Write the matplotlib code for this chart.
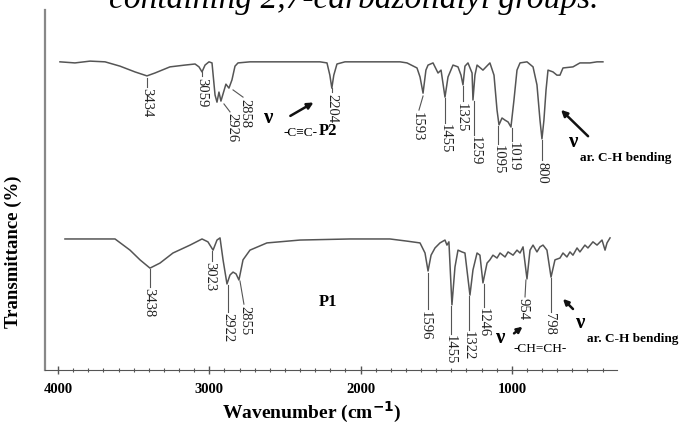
import matplotlib
matplotlib.use("Agg")
import matplotlib.pyplot as plt

plt.rcParams['font.family'] = ['Liberation Serif', 'DejaVu Serif']

# P2 spectrum (wavenumber in cm-1, transmittance in %, offset trace)
p2_wn = [3987, 3888, 3788, 3689, 3590, 3491, 3412, 3359, 3260, 3161, 3094, 3068,
         3048, 3028, 3002, 2982, 2962, 2949, 2936, 2923, 2909, 2890, 2870, 2850,
         2830, 2810, 2731, 2533, 2268, 2222, 2203, 2190, 2177, 2156, 2103, 1872,
         1739, 1693, 1627, 1607, 1587, 1568, 1554, 1521, 1488, 1468, 1442, 1422,
         1389, 1356, 1336, 1323, 1310, 1290, 1263, 1257, 1244, 1230, 1191, 1145,
         1118, 1098, 1085, 1065, 1045, 1025, 1006, 986, 966, 946, 900, 860,
         834, 814, 801, 788, 774, 761, 728, 702, 682, 662, 596, 550,
         484, 437, 398]
p2_t = [85.6, 85.3, 85.8, 85.6, 84.4, 82.8, 81.7, 82.5, 84.2, 84.7, 85.0, 84.2,
        82.8, 84.7, 85.6, 85.3, 76.4, 74.4, 77.2, 74.7, 76.7, 79.4, 78.3, 80.6,
        84.4, 85.3, 85.6, 85.6, 85.6, 85.3, 81.9, 78.3, 81.9, 85.0, 85.6, 85.6,
        85.6, 85.3, 83.9, 81.4, 76.9, 83.3, 84.7, 85.3, 82.5, 83.3, 75.8, 81.4,
        84.7, 84.2, 81.9, 79.2, 84.4, 85.3, 82.5, 75.0, 81.9, 84.7, 83.3, 85.3,
        81.9, 72.2, 68.1, 70.0, 69.4, 68.9, 67.5, 75.0, 83.3, 85.3, 85.6, 84.2,
        79.2, 69.4, 64.2, 69.4, 77.8, 83.3, 82.8, 81.9, 81.9, 83.9, 84.2, 85.3,
        85.3, 85.6, 85.6]

# P1 spectrum
p1_wn = [3954, 3623, 3524, 3458, 3392, 3326, 3240, 3127, 3048, 3009, 2975, 2949,
         2929, 2909, 2883, 2863, 2843, 2823, 2804, 2777, 2731, 2619, 2400, 2070,
         1806, 1693, 1607, 1574, 1554, 1534, 1508, 1475, 1442, 1429, 1416, 1396,
         1376, 1356, 1330, 1310, 1277, 1257, 1230, 1211, 1191, 1164, 1145, 1125,
         1098, 1078, 1045, 1025, 992, 966, 946, 926, 900, 880, 860, 834,
         814, 794, 768, 741, 715, 682, 662, 636, 616, 596, 569, 550,
         517, 497, 464, 437, 404, 384, 371, 351]
p1_t = [36.4, 36.4, 33.3, 30.6, 28.3, 29.7, 32.5, 34.7, 36.4, 35.6, 33.3, 36.1,
        36.7, 30.6, 23.9, 26.4, 27.2, 26.7, 25.0, 30.6, 33.3, 35.3, 36.1, 36.4,
        36.4, 35.8, 35.3, 32.5, 27.5, 31.9, 33.9, 35.3, 36.1, 34.7, 35.6, 18.1,
        28.6, 33.3, 32.8, 32.5, 20.8, 27.8, 32.5, 31.9, 24.2, 29.7, 30.6, 31.9,
        31.1, 32.5, 31.4, 32.8, 31.9, 33.3, 32.5, 34.2, 25.3, 33.3, 34.7, 32.8,
        34.2, 34.7, 33.3, 25.8, 30.6, 31.1, 32.5, 31.4, 32.8, 31.9, 33.9, 32.8,
        34.7, 33.9, 35.6, 34.7, 36.1, 33.3, 35.3, 36.7]

# peak labels: text, (line start), (line end / text top), text x
p2_peaks = [("3434", 3412, 81.1, 3412, 78.6, 3412),
            ("3059", 3048, 82.8, 3048, 81.6, 3048),
            ("2926", 2903, 73.9, 2863, 71.7, 2850),
            ("2858", 2843, 77.8, 2777, 75.8, 2764),
            ("2204", 2189, 78.3, 2189, 77.2, 2189),
            ("1593", 1587, 76.1, 1614, 72.2, 1627),
            ("1455", 1442, 75.6, 1442, 68.6, 1442),
            ("1325", 1323, 78.9, 1323, 74.7, 1336),
            ("1259", 1250, 74.7, 1250, 65.3, 1244),
            ("1095", 1092, 67.8, 1092, 62.8, 1092),
            ("1019", 999, 67.2, 999, 63.6, 992),
            ("800", 801, 63.9, 801, 58.3, 801)]
p1_peaks = [("3438", 3392, 28.1, 3392, 23.1, 3398),
            ("3023", 2982, 33.1, 2982, 30.3, 2995),
            ("2922", 2876, 23.6, 2876, 16.1, 2876),
            ("2855", 2797, 24.7, 2771, 18.3, 2764),
            ("1596", 1554, 26.9, 1554, 16.9, 1574),
            ("1455", 1402, 17.8, 1402, 10.0, 1409),
            ("1322", 1283, 20.6, 1283, 11.1, 1290),
            ("1246", 1184, 23.9, 1184, 17.5, 1191),
            ("954", 907, 25.0, 913, 20.3, 926),
            ("798", 741, 25.6, 741, 16.1, 748)]

fig = plt.figure(figsize=(6.91, 4.29), dpi=100)
ax = fig.add_axes([0.0651, 0.1375, 0.8278, 0.8392])

line_c = "#555555"
ax.plot(p2_wn, p2_t, color=line_c, lw=1.1)
ax.plot(p1_wn, p1_t, color=line_c, lw=1.1)

for peaks in (p2_peaks, p1_peaks):
    for txt, x0, y0, x1, y1, xt in peaks:
        ax.plot([x0, x1], [y0, y1], color=line_c, lw=0.8)
        ax.text(xt, y1 - 0.4, txt, rotation=-90, ha="center", va="top",
                fontsize=10.5, color="#222")

# band assignments
ax.text(2215, 66.4, "P2", ha="center", va="center", fontsize=12, fontweight="bold")
ax.text(2215, 18.9, "P1", ha="center", va="center", fontsize=12, fontweight="bold")

ax.text(2612, 70.0, "ν", ha="center", va="center", fontsize=15, fontweight="bold")
ax.text(2400, 65.8, "-C≡C-", ha="center", va="center", fontsize=9.5)
ax.annotate("", xy=(2295, 74.7), xytext=(2480, 70.2),
            arrowprops=dict(arrowstyle="-|>", color="#111", lw=1.8, mutation_scale=9))

ax.text(596, 63.3, "ν", ha="center", va="center", fontsize=15, fontweight="bold")
ax.text(550, 59.0, "ar. C-H bending", ha="left", va="center", fontsize=9.5,
        fontweight="bold", clip_on=False)
ax.annotate("", xy=(688, 72.8), xytext=(483, 64.4),
            arrowprops=dict(arrowstyle="-|>", color="#111", lw=1.8, mutation_scale=9))

ax.text(1078, 8.9, "ν", ha="center", va="center", fontsize=15, fontweight="bold")
ax.text(814, 5.8, "-CH=CH-", ha="center", va="center", fontsize=9.5)
ax.annotate("", xy=(915, 12.5), xytext=(1000, 9.7),
            arrowprops=dict(arrowstyle="-|>", color="#111", lw=1.8, mutation_scale=8))

ax.text(550, 13.1, "ν", ha="center", va="center", fontsize=15, fontweight="bold")
ax.text(503, 8.7, "ar. C-H bending", ha="left", va="center", fontsize=9.5,
        fontweight="bold", clip_on=False)
ax.annotate("", xy=(675, 20.3), xytext=(583, 16.4),
            arrowprops=dict(arrowstyle="-|>", color="#111", lw=1.8, mutation_scale=8))

ax.set_xlim(4086, 305)
ax.set_ylim(0, 100)
ax.set_xticks([4000, 3000, 2000, 1000])
ax.set_xticks(range(400, 4001, 100), minor=True)
ax.tick_params(axis="x", which="major", direction="inout", length=6, width=1,
               color="#555", labelsize=10.5, pad=6)
ax.tick_params(axis="x", which="minor", direction="inout", length=3, width=0.8,
               color="#555")
for lab in ax.get_xticklabels():
    lab.set_fontweight("bold")
ax.set_yticks([])
ax.spines["top"].set_visible(False)
ax.spines["right"].set_visible(False)
ax.spines["left"].set_color("#888")
ax.spines["left"].set_linewidth(1.6)
ax.spines["bottom"].set_color("#555")

ax.set_xlabel("Wavenumber (cm$^{\\mathbf{-1}}$)", fontsize=14, fontweight="bold")
ax.xaxis.set_label_coords(0.467, -0.082)
ax.set_ylabel("Transmittance (%)", fontsize=13.5, fontweight="bold")
ax.yaxis.set_label_coords(-0.040, 0.328)

fig.text(0.512, 0.981, "containing 2,7-carbazolidiyl groups.", ha="center",
         va="baseline", fontsize=24, style="italic")

fig.savefig("out.png", dpi=100)
